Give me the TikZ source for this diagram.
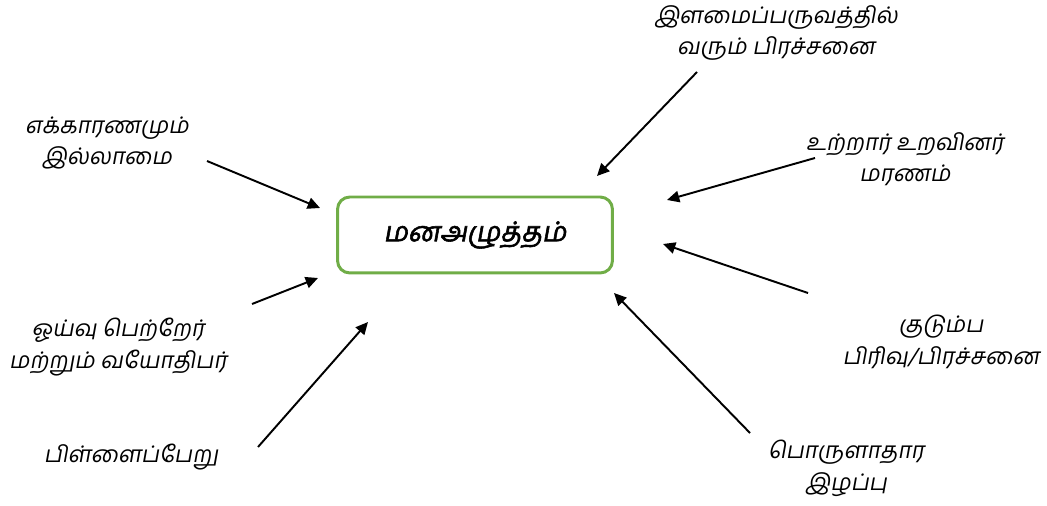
\documentclass[tikz,border=0pt]{standalone}
\usepackage{fontspec}
\usepackage{tikz}
\usetikzlibrary{arrows.meta}
\newfontfamily\tamilfont[Script=Tamil, FakeSlant=0.18]{Hind Madurai}
\newfontfamily\tamilbold[Script=Tamil, FakeSlant=0.18, FakeBold=2]{Hind Madurai}
\definecolor{StressGreen}{HTML}{70AD47}

\begin{document}
\begin{tikzpicture}[
  x=0.02cm, y=-0.02cm,
  cause/.style={align=center, inner sep=0pt, font=\tamilfont\fontsize{13}{18}\selectfont},
  core/.style={draw=StressGreen, line width=1.7pt, rounded corners=7pt, minimum width=5.5cm, minimum height=1.52cm, font=\tamilbold\fontsize{15.5}{19}\selectfont},
  arrow/.style={-{Triangle[length=7pt, width=6.5pt]}, line width=1.1pt}
]
\useasboundingbox (0,0) rectangle (1047,506);
\node[core] (stress) at (475,235) {மனஅழுத்தம்};

\node[cause] (youth) at (776,33) {இளமைப்பருவத்தில்\\வரும் பிரச்சனை};
\node[cause] (noreason) at (107,143) {எக்காரணமும்\\இல்லாமை};
\node[cause] (death) at (905,159) {உற்றார் உறவினர்\\மரணம்};
\node[cause] (retired) at (118,347) {ஓய்வு பெற்றேர்\\மற்றும் வயோதிபர்};
\node[cause] (family) at (941,342) {குடும்ப\\பிரிவு/பிரச்சனை};
\node[cause] (birth) at (131,457) {பிள்ளைப்பேறு};
\node[cause] (money) at (846,468) {பொருளாதார\\இழப்பு};

\coordinate (youthA) at (697,72);    \coordinate (youthB) at (597,176);
\coordinate (noreasonA) at (207,161); \coordinate (noreasonB) at (320,208);
\coordinate (deathA) at (815,158);   \coordinate (deathB) at (667,200);
\coordinate (familyA) at (808,293);  \coordinate (familyB) at (663,244);
\coordinate (retiredA) at (252,304); \coordinate (retiredB) at (318,278);
\coordinate (birthA) at (258,447);   \coordinate (birthB) at (368,322);
\coordinate (moneyA) at (750,433);   \coordinate (moneyB) at (614,293);

\draw[arrow] (youthA) -- (youthB);
\draw[arrow] (noreasonA) -- (noreasonB);
\draw[arrow] (deathA) -- (deathB);
\draw[arrow] (familyA) -- (familyB);
\draw[arrow] (retiredA) -- (retiredB);
\draw[arrow] (birthA) -- (birthB);
\draw[arrow] (moneyA) -- (moneyB);
\end{tikzpicture}
\end{document}
